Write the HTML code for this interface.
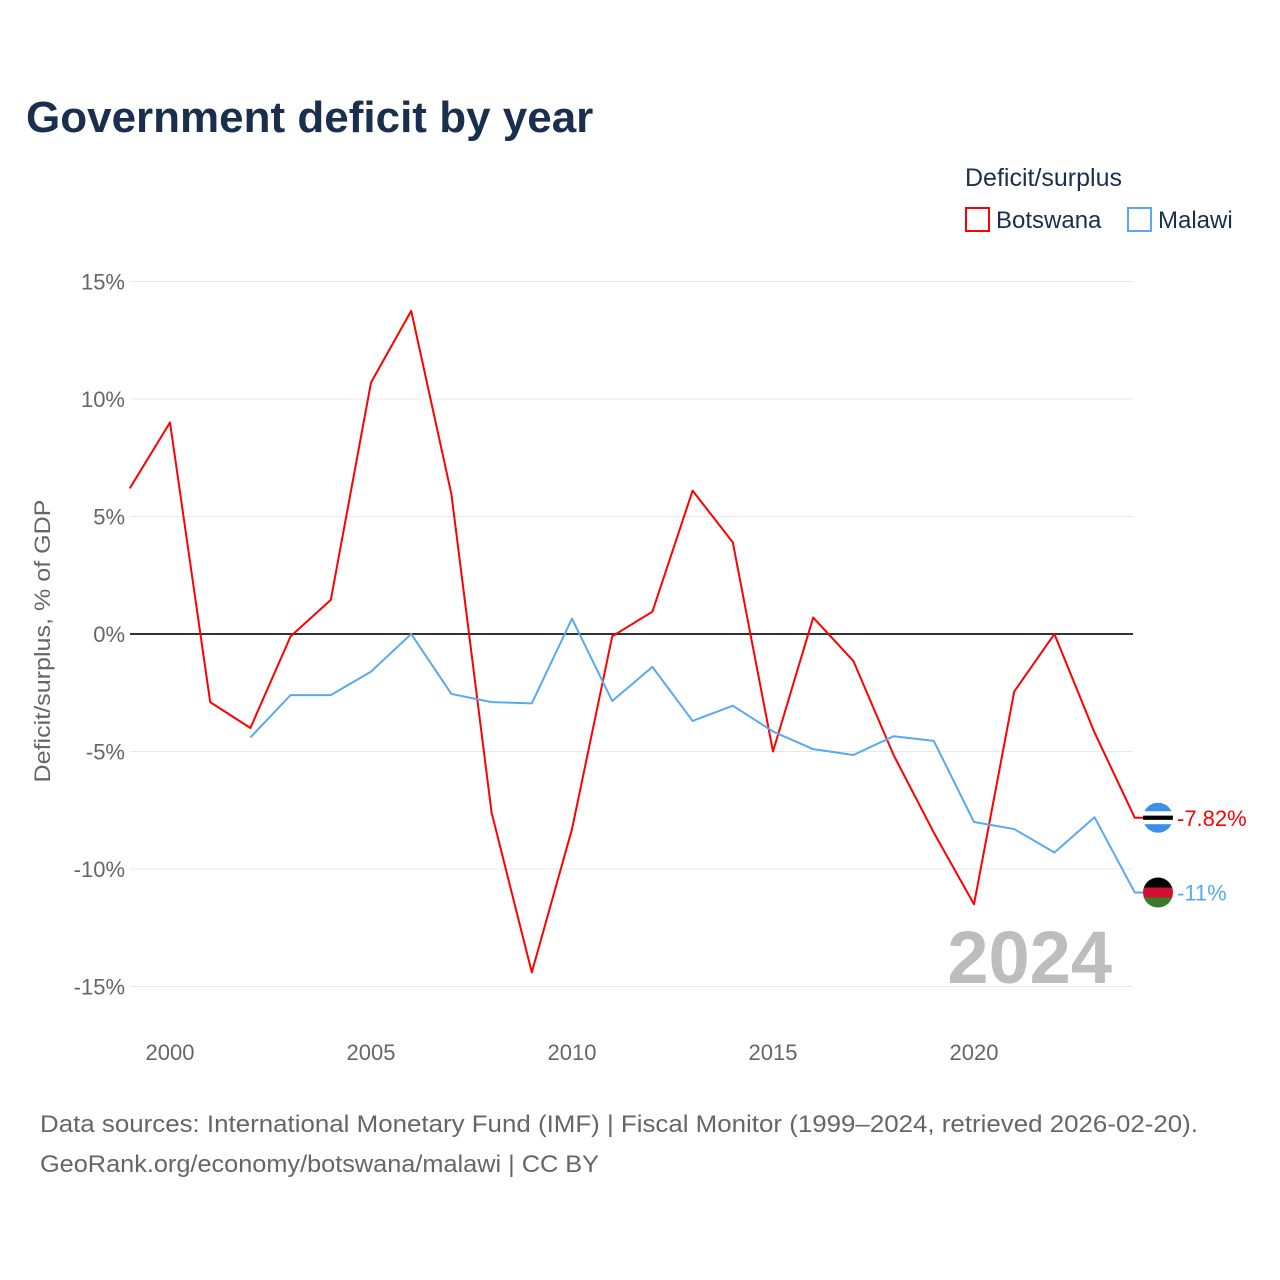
<!DOCTYPE html>
<html><head><meta charset="utf-8">
<style>
body{margin:0;background:#fff;font-family:"Liberation Sans",sans-serif;}
#wrap{position:relative;width:1280px;height:1280px;overflow:hidden;}
</style></head>
<body>
<div id="wrap">
<svg id="chart" width="1280" height="1280" viewBox="0 0 1280 1280">
<text x="26" y="132" font-size="44" font-weight="bold" fill="#1a2e4d">Government deficit by year</text>
<text x="965" y="186" font-size="25" fill="#1a2e4d">Deficit/surplus</text>
<g><rect x="966" y="208" width="23" height="23" fill="none" stroke="#f00" stroke-width="2"/><text x="996" y="228" font-size="24" fill="#1a2e4d">Botswana</text></g>
<g><rect x="1128" y="208" width="23" height="23" fill="none" stroke="#5aa9f0" stroke-width="2"/><text x="1158" y="228" font-size="24" fill="#1a2e4d">Malawi</text></g>
<g id="grid"></g><g id="yticks"></g><g id="xticks"></g><g id="series"></g>
<text transform="translate(50,641) rotate(-90)" text-anchor="middle" font-size="22" fill="#666" textLength="283" lengthAdjust="spacingAndGlyphs">Deficit/surplus, % of GDP</text>
<text x="1112" y="983" text-anchor="end" font-size="74" font-weight="bold" fill="#bdbdbd">2024</text>
<text x="40" y="1132" font-size="24" fill="#666" textLength="1158" lengthAdjust="spacingAndGlyphs">Data sources: International Monetary Fund (IMF) | Fiscal Monitor (1999–2024, retrieved 2026-02-20).</text>
<text x="40" y="1172" font-size="24" fill="#666" textLength="559" lengthAdjust="spacingAndGlyphs">GeoRank.org/economy/botswana/malawi | CC BY</text>
</svg>
</div>
<script>
const years=[1999,2000,2001,2002,2003,2004,2005,2006,2007,2008,2009,2010,2011,2012,2013,2014,2015,2016,2017,2018,2019,2020,2021,2022,2023,2024];
const botswana=[6.2,9.0,-2.9,-4.0,-0.1,1.45,10.7,13.75,5.95,-7.6,-14.4,-8.3,-0.1,0.95,6.1,3.9,-5.0,0.7,-1.15,-5.15,-8.45,-11.5,-2.45,0,-4.2,-7.82];
const malawi=[null,null,null,-4.4,-2.6,-2.6,-1.6,0,-2.55,-2.9,-2.95,0.65,-2.85,-1.4,-3.7,-3.05,-4.15,-4.9,-5.15,-4.35,-4.55,-8.0,-8.3,-9.3,-7.8,-11.0];
const yTicks=[15,10,5,0,-5,-10,-15];
const yTickLabels=["15%","10%","5%","0%","-5%","-10%","-15%"];
const xTicks=[2000,2005,2010,2015,2020];
const NS="http://www.w3.org/2000/svg";
const X=y=>170+(y-2000)*40.2;
const Y=v=>634-v*23.5;
function mk(tag,attrs,parent){const e=document.createElementNS(NS,tag);for(const k in attrs)e.setAttribute(k,attrs[k]);parent.appendChild(e);return e;}
const grid=document.getElementById('grid'),yt=document.getElementById('yticks'),xt=document.getElementById('xticks'),ser=document.getElementById('series');
yTicks.forEach((v,i)=>{
 const l=mk('line',{x1:130,x2:1133,y1:Y(v),y2:Y(v),stroke:v===0?'#333':'#e8e8e8','stroke-width':v===0?2:1},grid);
 
 
 const t=mk('text',{x:125,y:Y(v)+8,'text-anchor':'end','font-size':22,fill:'#666'},yt);
 t.textContent=yTickLabels[i];
 
 
});
xTicks.forEach(v=>{
 const t=mk('text',{x:X(v),y:1060,'text-anchor':'middle','font-size':22,fill:'#666'},xt);
 t.textContent=v;
 
 
});
function line(vals,color,name,label,flagColors){
 let d='';let last=null;
 vals.forEach((v,i)=>{if(v===null)return;d+=(d?'L':'M')+X(years[i])+','+Y(v);last=v;});
 d+='L1145,'+Y(last);
 const p=mk('path',{d:d,fill:'none',stroke:color,'stroke-width':2,'stroke-linejoin':'round'},ser);
 
 
 const g=mk('g',{},ser);
 
 
 const cy=Y(last);
 const cp=mk('clipPath',{id:'c'+name},g);mk('circle',{cx:1158,cy:cy,r:15},cp);
 const h=30/flagColors.length;
 flagColors.forEach((c,i)=>mk('rect',{x:1143,y:cy-15+i*h,width:30,height:h,fill:c,'clip-path':'url(#c'+name+')'},g));
 const t=mk('text',{x:1177,y:cy+8,'font-size':22,fill:color},ser);
 t.textContent=label;
 
 
}
line(botswana,'#f00','botswana',botswana[botswana.length-1]+'%',['#3a8fe8','#3a8fe8','#fff','#000','#fff','#3a8fe8','#3a8fe8']);
line(malawi,'#5aa9f0','malawi',malawi[malawi.length-1]+'%',['#000','#d21034','#3a7a2a']);
</script>
</body></html>
